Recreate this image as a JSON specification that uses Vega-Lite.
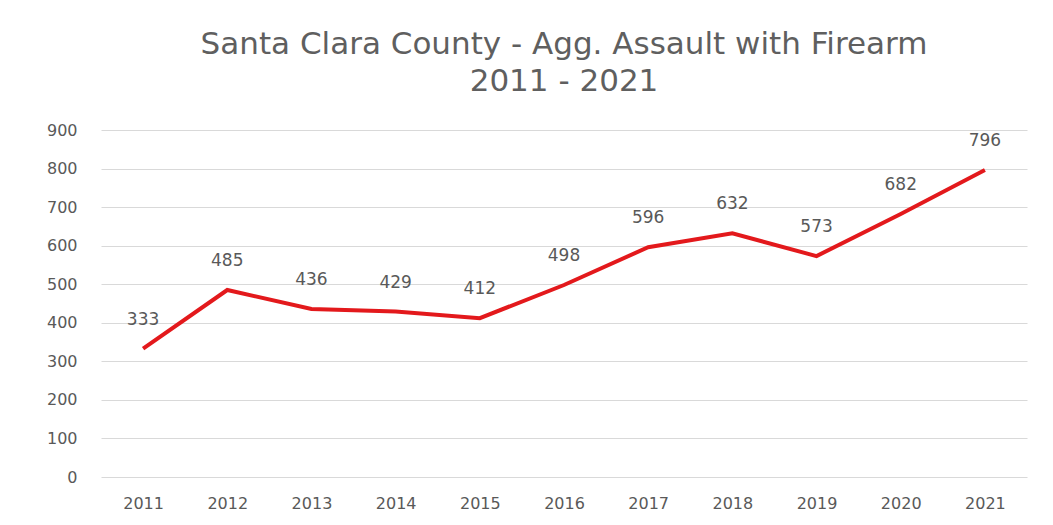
{
  "$schema": "https://vega.github.io/schema/vega-lite/v6.json",
  "width": 926,
  "height": 347,
  "autosize": {"type": "none"},
  "padding": {"left": 101, "top": 130, "right": 26, "bottom": 48},
  "background": "white",
  "title": {
    "text": ["Santa Clara County - Agg. Assault with Firearm", "2011 - 2021"],
    "anchor": "middle",
    "fontSize": 31,
    "font": "DejaVu Sans",
    "fontWeight": "normal",
    "color": "#5f5f5f",
    "lineHeight": 37,
    "offset": 24
  },
  "data": {
    "values": [
      {"year": "2011", "value": 333},
      {"year": "2012", "value": 485},
      {"year": "2013", "value": 436},
      {"year": "2014", "value": 429},
      {"year": "2015", "value": 412},
      {"year": "2016", "value": 498},
      {"year": "2017", "value": 596},
      {"year": "2018", "value": 632},
      {"year": "2019", "value": 573},
      {"year": "2020", "value": 682},
      {"year": "2021", "value": 796}
    ]
  },
  "config": {
    "view": {"stroke": null},
    "axis": {"labelFont": "DejaVu Sans", "labelColor": "#595959", "labelFontSize": 16, "domain": false, "ticks": false, "title": null}
  },
  "encoding": {
    "x": {"field": "year", "type": "ordinal", "scale": {"type": "point", "padding": 0.5}, "axis": {"labelAngle": 0, "labelPadding": 18, "grid": false}},
    "y": {"field": "value", "type": "quantitative", "scale": {"domain": [0, 900]}, "axis": {"values": [0,100,200,300,400,500,600,700,800,900], "labelPadding": 24, "gridColor": "#d9d9d9", "gridWidth": 1}}
  },
  "layer": [
    {"mark": {"type": "line", "color": "#e3191c", "strokeWidth": 4}},
    {"mark": {"type": "text", "dy": -29, "fontSize": 17, "font": "DejaVu Sans", "color": "#595959"}, "encoding": {"text": {"field": "value", "type": "quantitative"}}}
  ]
}
